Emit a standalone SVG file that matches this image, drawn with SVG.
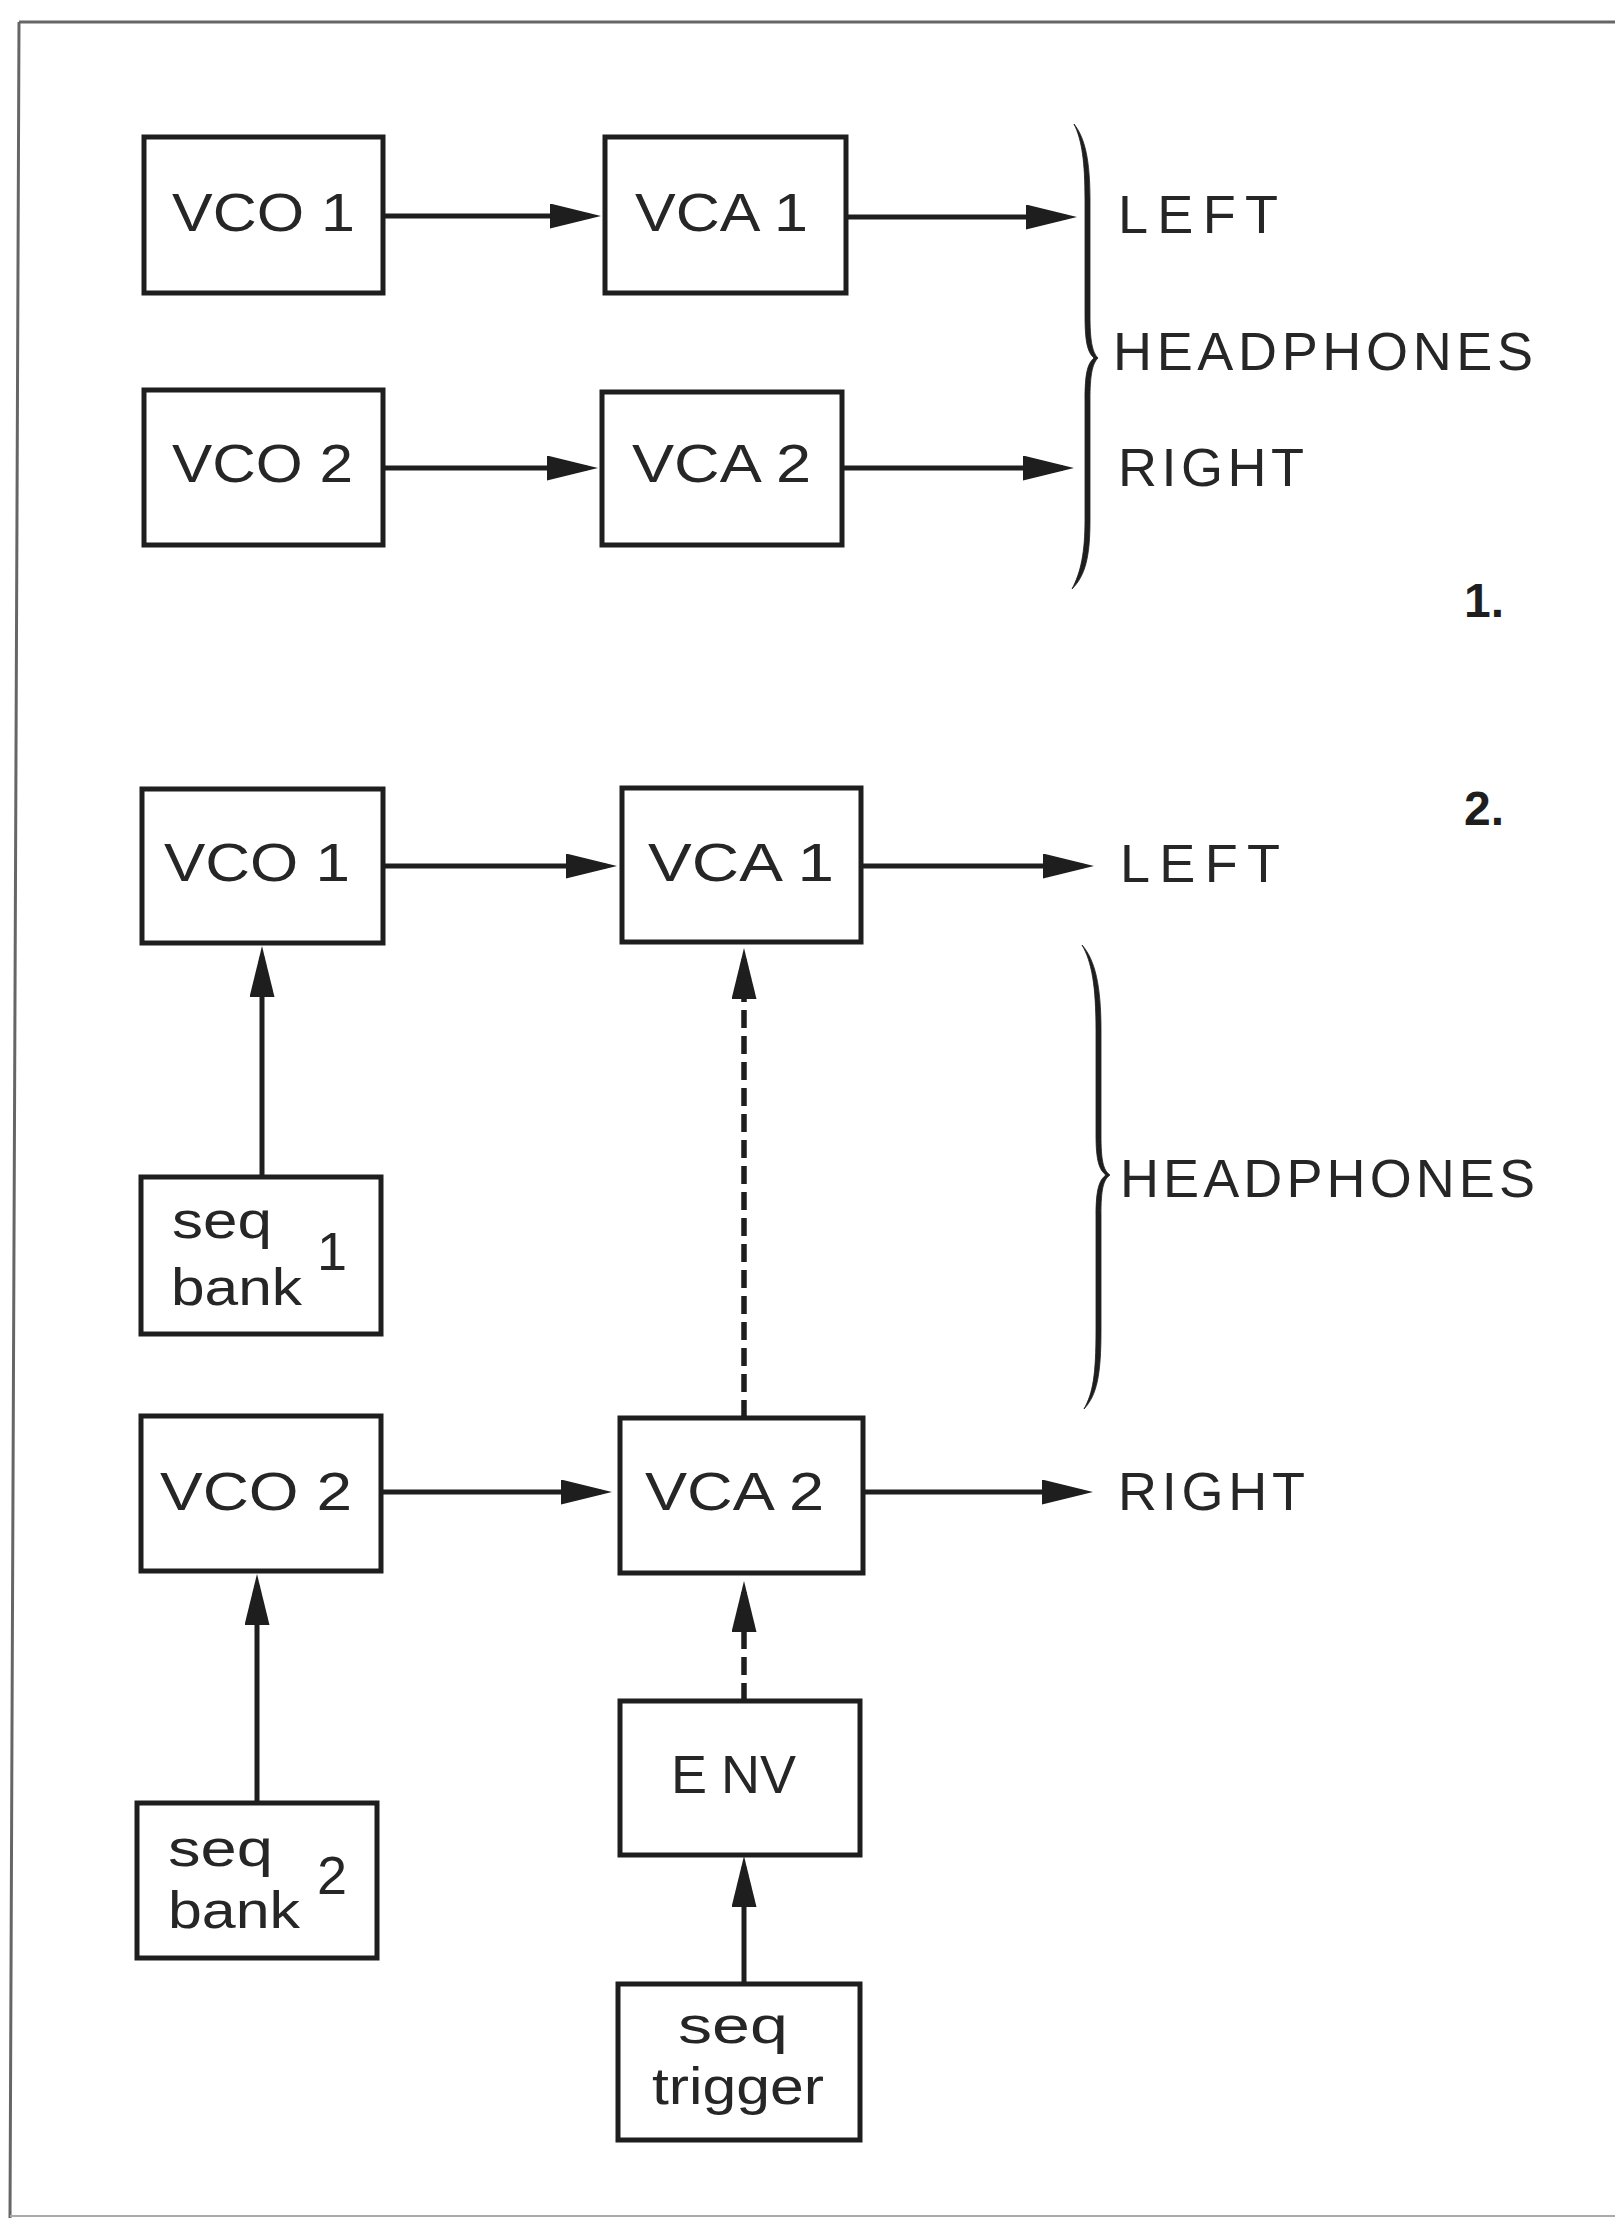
<svg xmlns="http://www.w3.org/2000/svg" width="1615" height="2218" viewBox="0 0 1615 2218">
<style>
.box{fill:#fff;stroke:#1e1e1e;stroke-width:5}
.lbl{font-family:"Liberation Sans",Arial,sans-serif;font-size:54px;fill:#262626}
.sm{font-family:"Liberation Sans",Arial,sans-serif;font-size:52px;fill:#262626}
.num{font-family:"Liberation Sans Narrow","Liberation Sans",Arial,sans-serif;font-size:48px;font-weight:bold;fill:#1e1e1e}
.ln{fill:none;stroke:#1e1e1e;stroke-width:5;marker-end:url(#ah)}
.dash{fill:none;stroke:#1e1e1e;stroke-width:5.5;stroke-dasharray:18 8;marker-end:url(#ah)}
.brace{fill:#1e1e1e;stroke:#1e1e1e;stroke-width:0.8}
.frame{fill:none;stroke:#666;stroke-width:3}
</style>
<defs>
<marker id="ah" markerUnits="userSpaceOnUse" markerWidth="54" markerHeight="26" refX="40" refY="12.5" orient="auto">
<path d="M0,0 L51,12.5 L0,25 Z" fill="#1e1e1e"/>
</marker>
</defs>
<rect x="0" y="0" width="1615" height="2218" fill="#fff"/>
<path class="frame" d="M19,22 L1615,22 M19,22 L10,2218"/>
<path d="M10,2216 L1615,2216" fill="none" stroke="#aaa" stroke-width="2"/>

<g id="connectors">
<path class="ln" d="M383,216 L590,216"/>
<path class="ln" d="M846,217 L1066,217"/>
<path class="ln" d="M383,468 L587,468"/>
<path class="ln" d="M842,468 L1063,468"/>
<path class="ln" d="M383,866 L606,866"/>
<path class="ln" d="M861,866 L1083,866"/>
<path class="ln" d="M381,1492 L601,1492"/>
<path class="ln" d="M863,1492 L1082,1492"/>
<path class="ln" d="M262,1177 L262,957"/>
<path class="dash" d="M744,1418 L744,959"/>
<path class="ln" d="M257,1803 L257,1585"/>
<path class="dash" d="M744,1701 L744,1592"/>
<path class="ln" d="M744,1984 L744,1867"/>
</g>

<g id="d1-vco1"><rect class="box" x="144" y="137" width="239" height="156"/><text class="lbl" x="172" y="231" textLength="183" lengthAdjust="spacingAndGlyphs">VCO 1</text></g>
<g id="d1-vca1"><rect class="box" x="605" y="137" width="241" height="156"/><text class="lbl" x="635" y="231" textLength="173" lengthAdjust="spacingAndGlyphs">VCA 1</text></g>
<g id="d1-vco2"><rect class="box" x="144" y="390" width="239" height="155"/><text class="lbl" x="172" y="482" textLength="181" lengthAdjust="spacingAndGlyphs">VCO 2</text></g>
<g id="d1-vca2"><rect class="box" x="602" y="392" width="240" height="153"/><text class="lbl" x="632" y="482" textLength="179" lengthAdjust="spacingAndGlyphs">VCA 2</text></g>

<g id="d1-headphones">
<path class="brace" d="M1074,124 C1085,138 1090,160 1090,200 L1090,315 C1090,340 1092,352 1098,358 C1092,364 1090,376 1090,400 L1090,520 C1090,555 1086,575 1072,589 C1081,572 1085,552 1085,520 L1085,400 C1085,375 1087,364 1094,358 C1087,352 1085,340 1085,315 L1085,200 C1085,162 1082,140 1074,124 Z"/>
<text class="lbl" x="1118" y="233" textLength="160" lengthAdjust="spacing">LEFT</text>
<text class="lbl" x="1113" y="370" textLength="420" lengthAdjust="spacing">HEADPHONES</text>
<text class="lbl" x="1118" y="486" textLength="186" lengthAdjust="spacing">RIGHT</text>
</g>
<text class="num" x="1464" y="617">1.</text>

<g id="d2-vco1"><rect class="box" x="142" y="789" width="241" height="154"/><text class="lbl" x="164" y="881" textLength="186" lengthAdjust="spacingAndGlyphs">VCO 1</text></g>
<g id="d2-vca1"><rect class="box" x="622" y="788" width="239" height="154"/><text class="lbl" x="648" y="881" textLength="186" lengthAdjust="spacingAndGlyphs">VCA 1</text></g>
<g id="d2-bank1"><rect class="box" x="141" y="1177" width="240" height="157"/>
<text class="sm" x="172" y="1238" textLength="100" lengthAdjust="spacingAndGlyphs">seq</text>
<text class="sm" x="171" y="1305" textLength="131" lengthAdjust="spacingAndGlyphs">bank</text>
<text class="lbl" x="317" y="1270">1</text></g>
<g id="d2-vco2"><rect class="box" x="141" y="1416" width="240" height="155"/><text class="lbl" x="160" y="1510" textLength="192" lengthAdjust="spacingAndGlyphs">VCO 2</text></g>
<g id="d2-vca2"><rect class="box" x="620" y="1418" width="243" height="155"/><text class="lbl" x="645" y="1510" textLength="179" lengthAdjust="spacingAndGlyphs">VCA 2</text></g>
<g id="d2-bank2"><rect class="box" x="137" y="1803" width="240" height="155"/>
<text class="sm" x="168" y="1866" textLength="105" lengthAdjust="spacingAndGlyphs">seq</text>
<text class="sm" x="168" y="1928" textLength="132" lengthAdjust="spacingAndGlyphs">bank</text>
<text class="lbl" x="317" y="1894">2</text></g>
<g id="d2-env"><rect class="box" x="620" y="1701" width="240" height="154"/><text class="lbl" x="671" y="1793" font-size="56">E<tspan dx="14">NV</tspan></text></g>
<g id="d2-trigger"><rect class="box" x="618" y="1984" width="242" height="156"/>
<text class="sm" x="678" y="2043" textLength="110" lengthAdjust="spacingAndGlyphs">seq</text>
<text class="sm" x="652" y="2104" textLength="172" lengthAdjust="spacingAndGlyphs">trigger</text></g>

<g id="d2-headphones">
<path class="brace" d="M1082,945 C1095,960 1101,985 1101,1030 L1101,1135 C1101,1160 1103,1170 1110,1175 C1103,1180 1101,1190 1101,1215 L1101,1330 C1101,1375 1097,1395 1084,1409 C1093,1393 1096,1375 1096,1330 L1096,1215 C1096,1190 1099,1180 1106,1175 C1099,1170 1096,1160 1096,1135 L1096,1030 C1096,987 1092,962 1082,945 Z"/>
<text class="lbl" x="1120" y="882" textLength="160" lengthAdjust="spacing">LEFT</text>
<text class="lbl" x="1120" y="1197" textLength="415" lengthAdjust="spacing">HEADPHONES</text>
<text class="lbl" x="1118" y="1510" textLength="187" lengthAdjust="spacing">RIGHT</text>
</g>
<text class="num" x="1464" y="825">2.</text>
</svg>
